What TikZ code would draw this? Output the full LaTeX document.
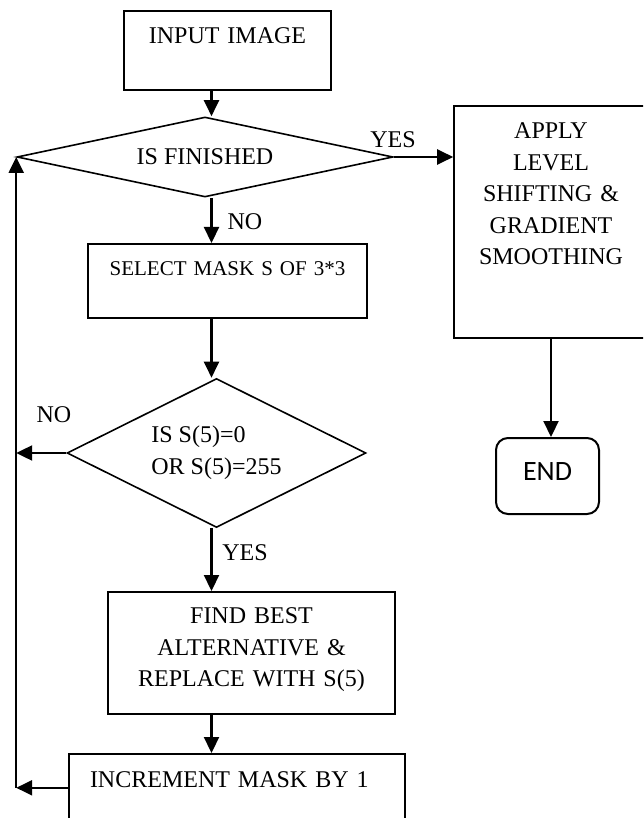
\documentclass[tikz,border=0pt]{standalone}
\usepackage{fontspec}
\setmainfont{Liberation Serif}
\newfontfamily\endfont{Carlito}
\usetikzlibrary{arrows.meta,shapes.geometric}

\begin{document}
\begin{tikzpicture}[x=0.5pt,y=-0.5pt,
    box/.style={draw,line width=0.8pt,rectangle,inner sep=0pt,align=center,font=\fontsize{12}{15.75}\selectfont},
    decision/.style={draw,line width=0.8pt,diamond,inner sep=0pt,font=\fontsize{12}{16}\selectfont},
    arr/.style={-{Triangle[length=8pt,width=7.5pt]},line width=1.1pt},
    lbl/.style={inner sep=0pt,font=\fontsize{12}{14}\selectfont}]
    \useasboundingbox (0,0) rectangle (643,818);
    \clip (0,0) rectangle (643,818);
    % Main column
    \node[box,anchor=north,text width=103.5pt,text height=16.5pt,text depth=23pt] (input) at (227.5,10) {INPUT IMAGE};
    \node[decision,minimum width=188pt,minimum height=40pt,aspect=4.7] (fin) at (205,157) {IS FINISHED};
    \node[box,anchor=north,text width=139.5pt,text height=16pt,text depth=21pt,font=\fontsize{10.5}{13}\selectfont] (sel) at (227.5,243) {SELECT MASK S OF 3*3};
    \node[decision,minimum width=149.5pt,minimum height=74.5pt,aspect=2,align=left] (mask) at (216.5,453) {IS S(5)=0\\OR S(5)=255};
    \node[box,anchor=north,text width=143.5pt,text height=16pt,text depth=45pt] (find) at (251.5,591) {FIND BEST\\ALTERNATIVE \&\\REPLACE WITH S(5)};
    \node[box,anchor=north,align=left,text width=147pt,inner xsep=10.5pt,text height=17pt,text depth=30pt] (inc) at (237,753) {INCREMENT MASK BY 1};
    % Right column
    \node[box,anchor=north,text width=97pt,text height=16.5pt,text depth=99.5pt] (apply) at (551,105) {APPLY\\LEVEL\\SHIFTING \&\\GRADIENT\\SMOOTHING};
    \node[draw,line width=1pt,rounded corners=6pt,anchor=north,minimum width=51.5pt,inner sep=0pt,text height=21pt,text depth=17pt,font=\endfont\fontsize{14}{16}\selectfont] (stop) at (547.5,437) {END};
    % Branch labels
    \node[lbl] (yes1) at (393,140) {YES};
    \node[lbl] (no1) at (245,222) {NO};
    \node[lbl] (no2) at (54,415) {NO};
    \node[lbl] (yes2) at (245,553) {YES};
    % Flow down the main column
    \coordinate (spine) at (211.5,0);
    \draw[arr] (input.south -| spine) -- (fin.north -| spine);
    \draw[arr] (fin.south -| spine) -- (sel.north -| spine);
    \draw[arr] (sel.south -| spine) -- (mask.north -| spine);
    \draw[arr] (mask.south -| spine) -- (find.north -| spine);
    \draw[arr] (find.south -| spine) -- (inc.north -| spine);
    % Exit
    \draw[arr] (fin.east) -- (fin.east -| apply.west);
    \draw[arr] (apply.south) -- (apply.south |- stop.north);
    % Loop back
    \draw[arr] (mask.west) -- (mask.west -| fin.west);
    \draw[arr] (inc.base west) -- (inc.base west -| fin.west);
    \draw[arr] (inc.base west -| fin.west) -- (fin.west);
\end{tikzpicture}
\end{document}
